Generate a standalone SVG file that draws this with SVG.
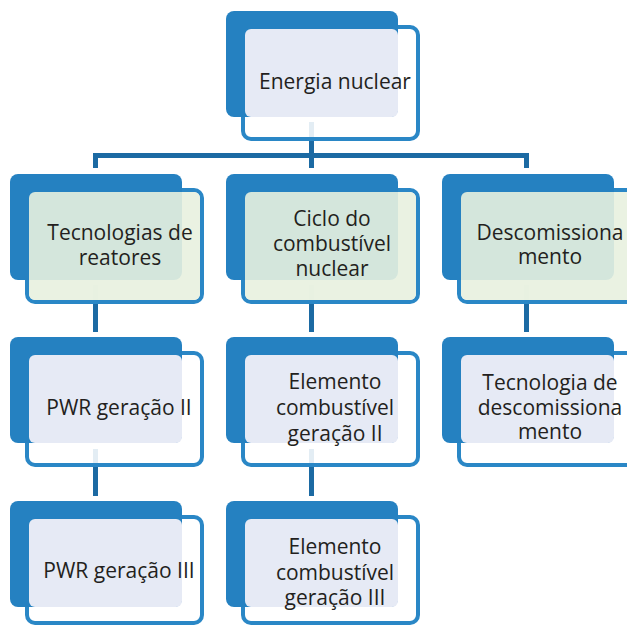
<svg xmlns="http://www.w3.org/2000/svg" width="627" height="626" viewBox="0 0 627 626">
<style>
.back{fill:#2581c1}
.frame{fill:#ffffff;fill-opacity:0.88;stroke:#2a87c6;stroke-width:4}
.lav{fill:#e6eaf5}
.grn{fill:#e8f1df;fill-opacity:0.9}
.conn{stroke:#1c6aa3;stroke-width:5;fill:none}
text{font-family:"Open Sans","DejaVu Sans",sans-serif;font-size:21px;fill:#231f20;text-anchor:middle}
</style>
<rect width="627" height="626" fill="#ffffff"/>
<g id="connectors">
<path class="conn" d="M311.5 122 V168 M95.5 168 V155.5 H526.5 V168"/>
<path class="conn" d="M95.5 285 V332 M311.5 285 V332 M526.5 285 V332"/>
<path class="conn" d="M95.5 449 V496 M311.5 449 V496"/>
</g>
<g id="n-energia">
<rect class="frame" x="243" y="27" width="175" height="112" rx="8"/>
<rect class="back" x="226" y="11" width="172" height="106" rx="8"/>
<rect class="lav" x="245" y="29" width="153" height="88" rx="6"/>
<text x="335" y="89">Energia nuclear</text>
</g>
<g id="n-tecnologias">
<rect class="frame" x="27" y="190" width="175" height="112" rx="8"/>
<rect class="back" x="10" y="174" width="172" height="106" rx="8"/>
<rect class="grn" x="29" y="192" width="171" height="108" rx="6"/>
<text x="120" y="240">Tecnologias de</text>
<text x="120" y="265">reatores</text>
</g>
<g id="n-ciclo">
<rect class="frame" x="243" y="190" width="175" height="112" rx="8"/>
<rect class="back" x="226" y="174" width="172" height="106" rx="8"/>
<rect class="grn" x="245" y="192" width="171" height="108" rx="6"/>
<text x="332" y="226">Ciclo do</text>
<text x="332" y="251">combustível</text>
<text x="332" y="276">nuclear</text>
</g>
<g id="n-descom">
<rect class="frame" x="459" y="190" width="175" height="112" rx="8"/>
<rect class="back" x="442" y="174" width="172" height="106" rx="8"/>
<rect class="grn" x="461" y="192" width="171" height="108" rx="6"/>
<text x="550" y="240">Descomissiona</text>
<text x="550" y="264">mento</text>
</g>
<g id="n-pwr2">
<rect class="frame" x="27" y="353" width="175" height="112" rx="8"/>
<rect class="back" x="10" y="337" width="172" height="106" rx="8"/>
<rect class="lav" x="29" y="355" width="153" height="88" rx="6"/>
<text x="119" y="415">PWR geração II</text>
</g>
<g id="n-elem2">
<rect class="frame" x="243" y="353" width="175" height="112" rx="8"/>
<rect class="back" x="226" y="337" width="172" height="106" rx="8"/>
<rect class="lav" x="245" y="355" width="153" height="88" rx="6"/>
<text x="335" y="389">Elemento</text>
<text x="335" y="415">combustível</text>
<text x="335" y="441">geração II</text>
</g>
<g id="n-tecdescom">
<rect class="frame" x="459" y="353" width="175" height="112" rx="8"/>
<rect class="back" x="442" y="337" width="172" height="106" rx="8"/>
<rect class="lav" x="461" y="355" width="153" height="88" rx="6"/>
<text x="550" y="390">Tecnologia de</text>
<text x="550" y="415">descomissiona</text>
<text x="550" y="439">mento</text>
</g>
<g id="n-pwr3">
<rect class="frame" x="27" y="517" width="175" height="106" rx="8"/>
<rect class="back" x="10" y="501" width="172" height="106" rx="8"/>
<rect class="lav" x="29" y="519" width="153" height="88" rx="6"/>
<text x="119" y="578">PWR geração III</text>
</g>
<g id="n-elem3">
<rect class="frame" x="243" y="517" width="175" height="106" rx="8"/>
<rect class="back" x="226" y="501" width="172" height="106" rx="8"/>
<rect class="lav" x="245" y="519" width="153" height="88" rx="6"/>
<text x="335" y="554">Elemento</text>
<text x="335" y="580">combustível</text>
<text x="335" y="605">geração III</text>
</g>
</svg>
